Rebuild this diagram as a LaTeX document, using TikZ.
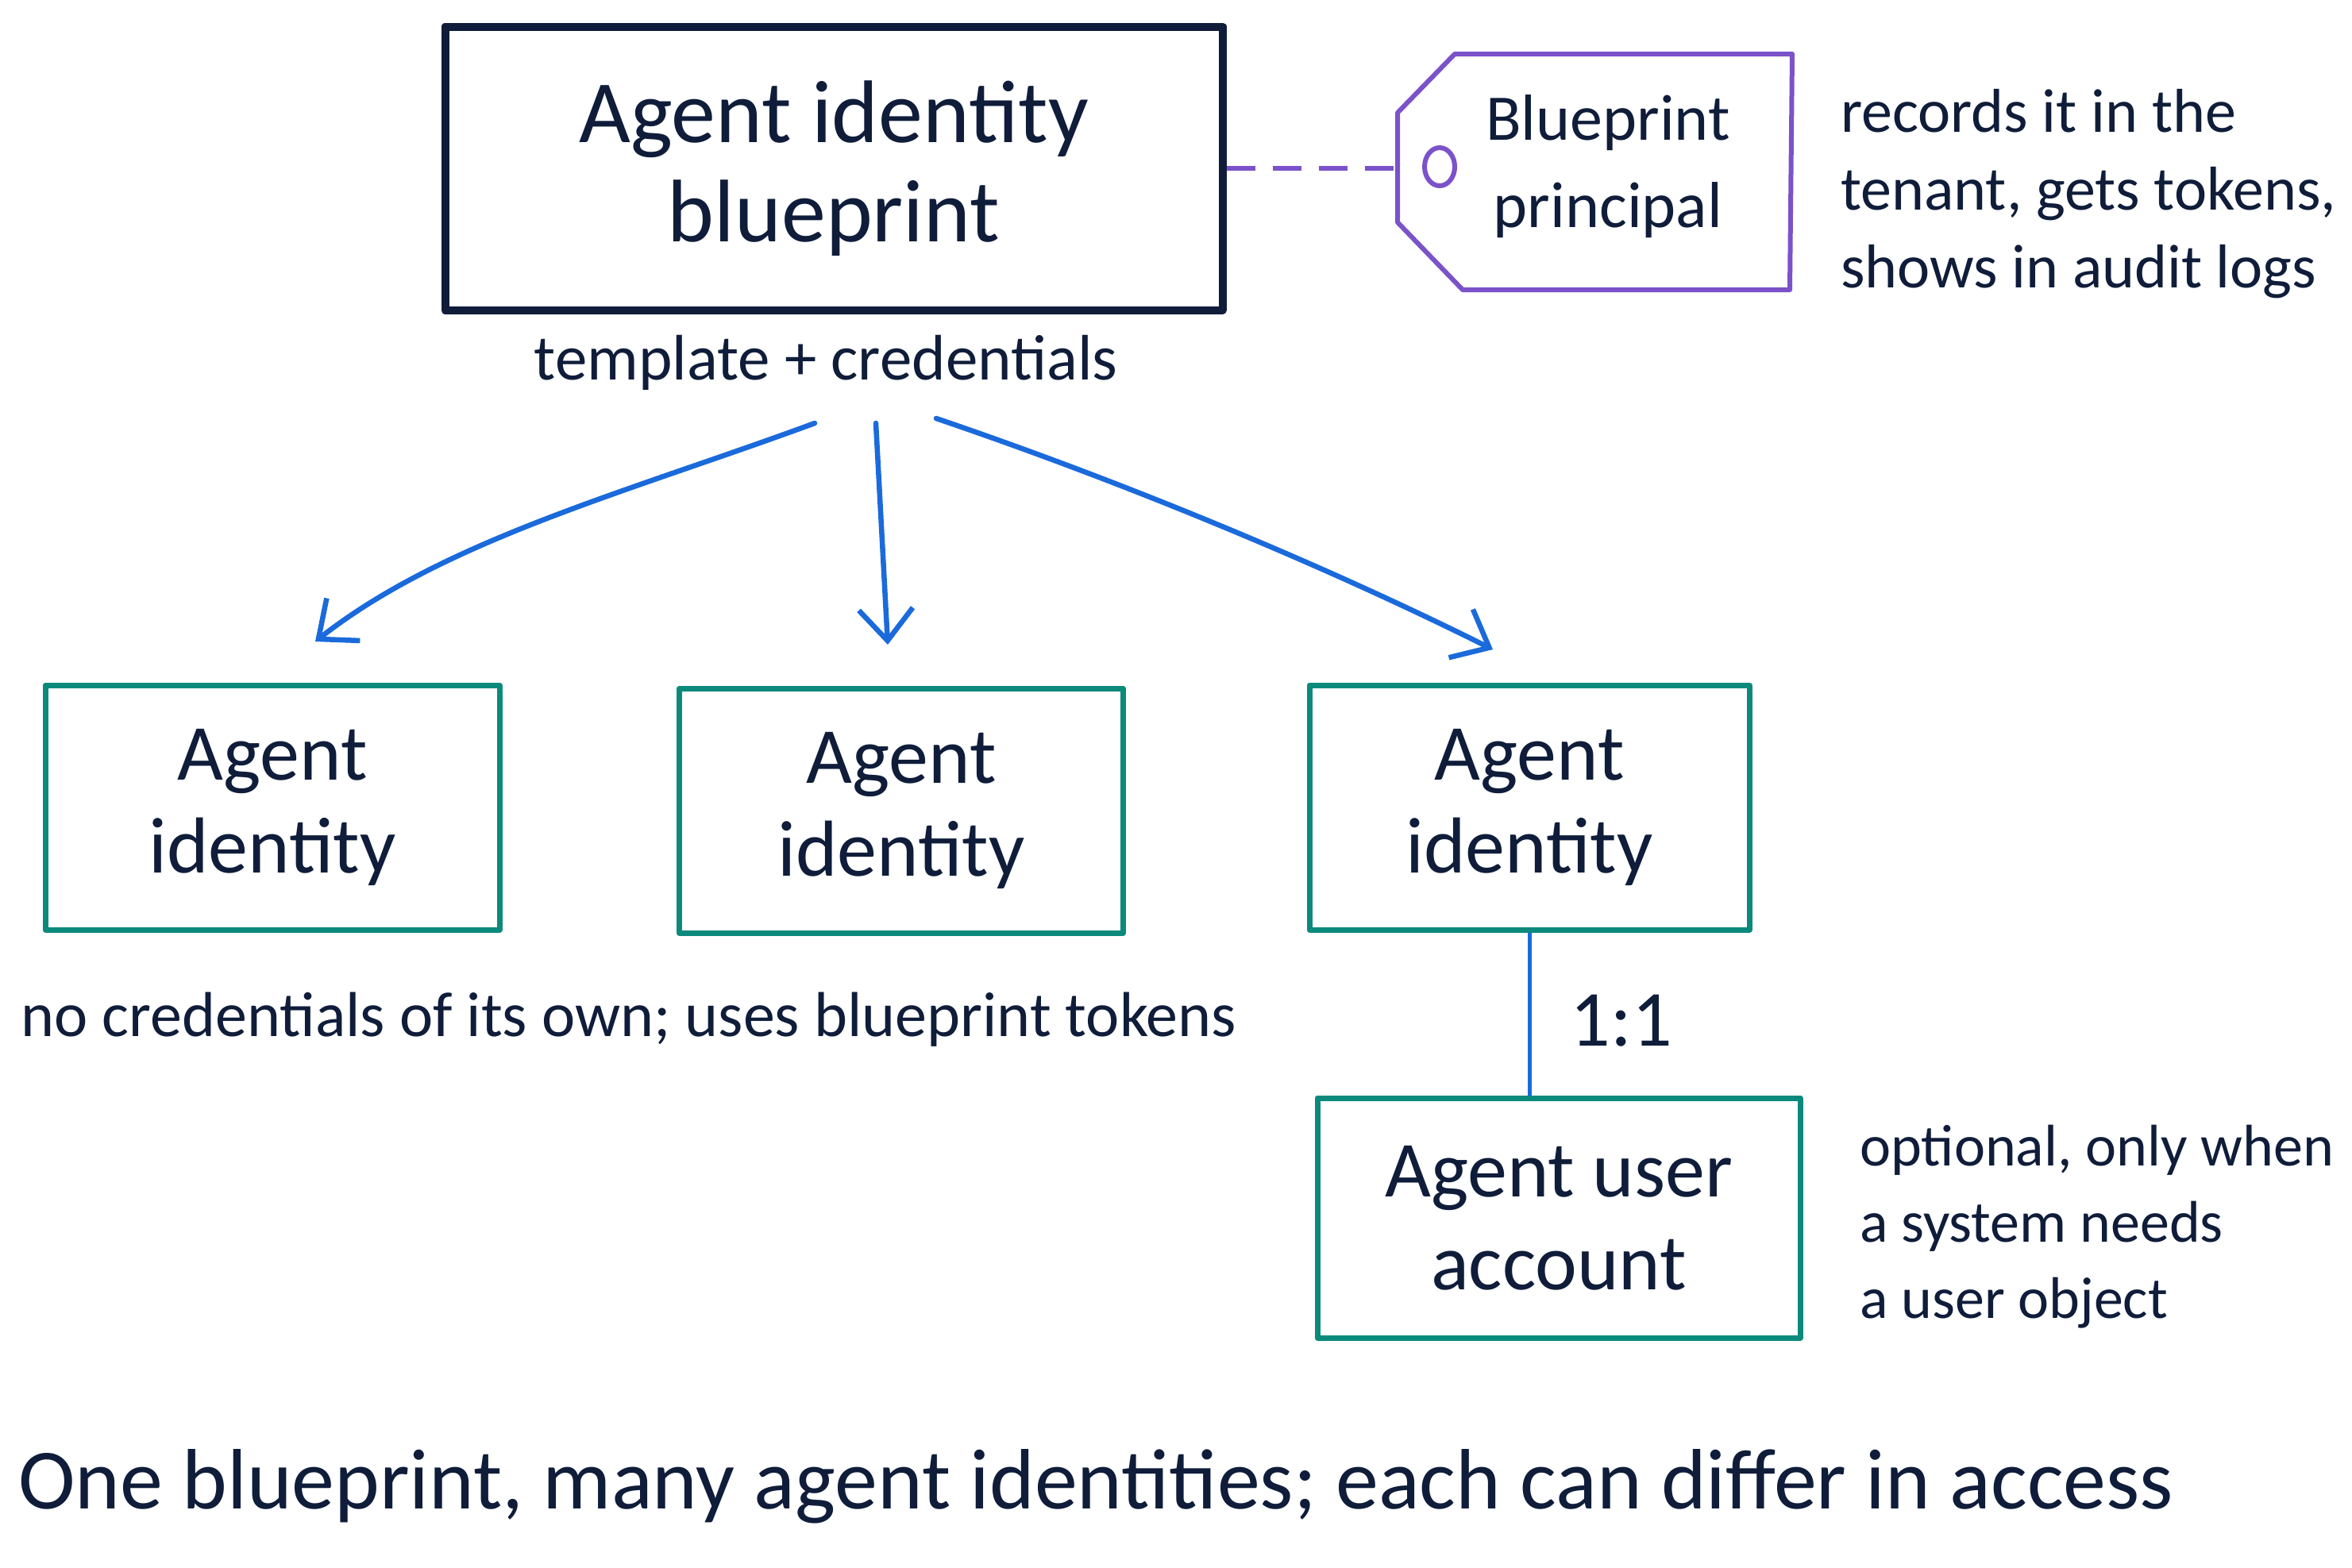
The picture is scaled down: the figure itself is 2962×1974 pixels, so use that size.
\documentclass[tikz,border=0pt]{standalone}
\usepackage{fontspec}
\setmainfont{Carlito}
\usetikzlibrary{arrows.meta}
\definecolor{ink}{HTML}{0F1D3A}
\definecolor{tealc}{HTML}{0B8A7C}
\definecolor{bluec}{HTML}{1A6ADB}
\definecolor{purplec}{HTML}{7B52C9}
\tikzset{
  bigbox/.style={draw=ink, line width=10pt, line join=round, minimum width=979pt, minimum height=357pt, align=center, text=ink, font=\fontsize{112}{125}\selectfont},
  idbox/.style={draw=tealc, line width=7pt, line join=round, align=center, text=ink, font=\fontsize{100}{117}\selectfont},
  smalltxt/.style={text=ink, inner sep=0pt, font=\fontsize{81}{98}\selectfont},
  sidetxt/.style={text=ink, inner sep=0pt, anchor=west, align=left},
  tagtxt/.style={text=ink, align=center, font=\fontsize{82}{110}\selectfont},
  arr/.style={draw=bluec, line width=6.5pt, line cap=round, -{Straight Barb[length=40pt,width=68pt]}},
  link/.style={draw=bluec, line width=5pt},
  dashlink/.style={draw=purplec, line width=6pt, dash pattern=on 36pt off 22pt},
  tagline/.style={draw=purplec, line width=6pt, line join=round}
}
\begin{document}
\begin{tikzpicture}[x=1pt,y=-1pt]
\useasboundingbox[fill=white] (0,0) rectangle (2962,1974);

% top blueprint box
\node[bigbox] (bp) at (1050,212) {Agent identity\\blueprint};
\node[smalltxt] (tc) at (1040,457) {template + credentials};

% tag
\coordinate (t1) at (1832,68);
\coordinate (t2) at (2257,68);
\coordinate (t3) at (2254,365);
\coordinate (t4) at (1842,365);
\coordinate (t5) at (1760,280);
\coordinate (t6) at (1760,142);
\coordinate (tagleft) at (1760,212);
\draw[tagline] (t1) -- (t2) -- (t3) -- (t4) -- (t5) -- (t6) -- cycle;
\draw[tagline] (1813,210) ellipse [x radius=19, y radius=24];
\node[tagtxt] (bpp) at (2025,210) {Blueprint\\principal};
\draw[dashlink] (bp.east) -- (tagleft);

\node[sidetxt, font=\fontsize{78}{98}\selectfont] (rec) at (2318,244) {records it in the\\tenant, gets tokens,\\shows in audit logs};

% agent identity boxes
\node[idbox, minimum width=572pt, minimum height=308pt] (id1) at (343,1017) {Agent\\identity};
\node[idbox, minimum width=559pt, minimum height=308pt] (id2) at (1135,1021) {Agent\\identity};
\node[idbox, minimum width=554pt, minimum height=308pt] (id3) at (1926,1017) {Agent\\identity};

% arrows
\coordinate (s1) at (1026,533);
\coordinate (e1) at (397,808);
\coordinate (s2) at (1103,533);
\coordinate (e2) at (1118,812);
\coordinate (s3) at (1179,527);
\coordinate (e3) at (1880,818);
\draw[arr] (s1) .. controls (790,620) and (560,680) .. (e1);
\draw[arr] (s2) -- (e2);
\draw[arr] (s3) .. controls (1429,612) and (1680,718) .. (e3);

\node[smalltxt, font=\fontsize{80}{98}\selectfont] (nocred) at (792,1284) {no credentials of its own; uses blueprint tokens};

% user account
\node[idbox, minimum width=608pt, minimum height=302pt] (ua) at (1963,1534) {Agent user\\account};
\draw[link] (id3.south) -- (id3.south |- ua.north);
\node[text=ink, font=\fontsize{100}{110}\selectfont] (ratio) at (2042,1286) {1:1};

\node[sidetxt, font=\fontsize{74}{96}\selectfont] (opt) at (2342,1545) {optional, only when\\a system needs\\a user object};

% bottom caption
\node[text=ink, anchor=west, inner sep=0pt, font=\fontsize{108}{120}\selectfont] (cap) at (23,1872) {One blueprint, many agent identities; each can differ in access};
\end{tikzpicture}
\end{document}
